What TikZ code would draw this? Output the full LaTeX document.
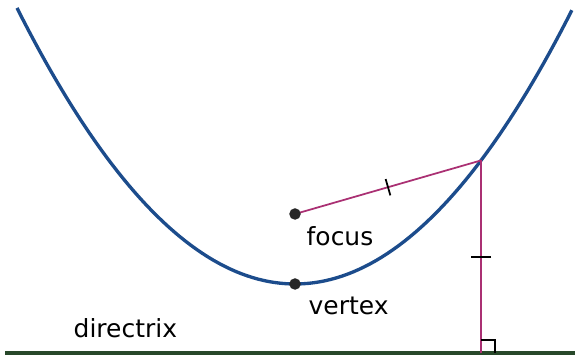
\documentclass[tikz,border=0pt]{standalone}
\usepackage{fontspec}
\setmainfont{DejaVu Sans}
\usetikzlibrary{calc}

\definecolor{parabblue}{RGB}{28,76,140}
\definecolor{segpink}{RGB}{170,48,115}
\definecolor{dirgreen}{RGB}{40,72,42}

\begin{document}
\begin{tikzpicture}[every node/.style={font=\fontsize{7.1}{8.5}\selectfont, inner sep=0pt}]
\useasboundingbox (0,0) rectangle (5.75,3.56);

% Directrix
\coordinate (dirL) at (0.05,0.03);
\coordinate (dirR) at (5.75,0.03);
\draw[dirgreen, line width=0.9pt] (dirL) -- (dirR);
\node[anchor=base west] (dirlabel) at (0.73,0.18) {directrix};

% Parabola (vertex at (2.95,0.72), focal length 0.70)
\draw[parabblue, line width=0.95pt, domain=0.17:5.72, samples=100]
  plot (\x, {0.72+(\x-2.95)*(\x-2.95)/2.8});

% Focus and vertex
\coordinate (F) at (2.95,1.42);
\coordinate (V) at (2.95,0.72);

% Point on the curve and its foot on the directrix
\coordinate (P) at (4.81,{0.72+1.86*1.86/2.8});
\coordinate (Q) at (4.81,0.03);

% Equal distances
\draw[segpink, line width=0.5pt] (F) -- (P);
\draw[segpink, line width=0.5pt] (P) -- (Q);

% Tick marks
\draw[black, line width=0.5pt]
  ($(F)!0.5!(P)!0.85mm!90:(P)$) -- ($(F)!0.5!(P)!0.85mm!-90:(P)$);
\draw[black, line width=0.55pt]
  ($(P)!0.5!(Q)!1mm!90:(Q)$) -- ($(P)!0.5!(Q)!1mm!-90:(Q)$);

% Right angle
\draw[black, line width=0.4pt] ($(Q)+(0,0.13)$) -| ($(Q)+(0.14,0)$);

% Dots
\filldraw[black!85] (F) circle (0.05);
\filldraw[black!85] (V) circle (0.05);
\node[anchor=base west] (focuslabel) at (3.06,1.10) {focus};
\node[anchor=base west] (vertexlabel) at (3.08,0.41) {vertex};

\end{tikzpicture}
\end{document}
